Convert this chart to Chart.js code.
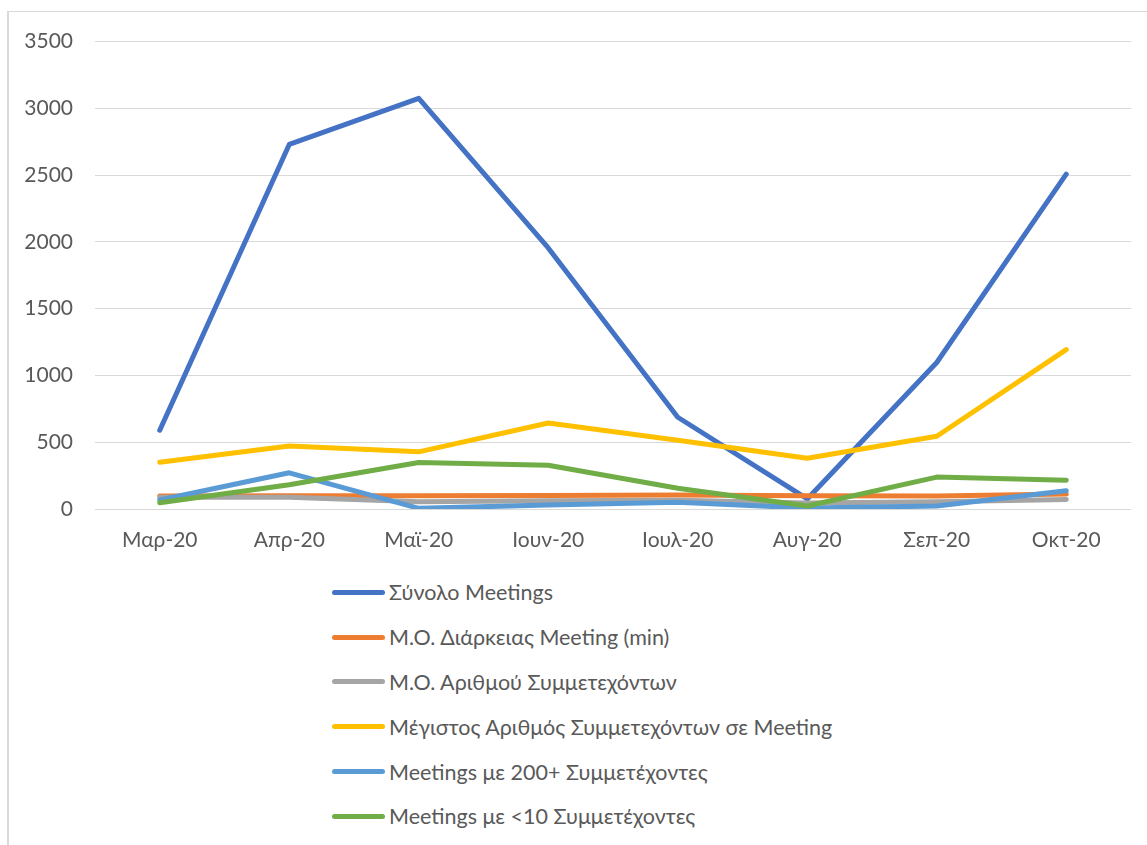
<!DOCTYPE html>
<html>
<head>
<meta charset="utf-8">
<script src="https://cdn.jsdelivr.net/npm/chart.js@4"></script>
<style>
  html, body { margin: 0; padding: 0; background: #fff; }
  #frame {
    position: absolute; left: 7px; top: 11px; width: 1140px; height: 834px;
    border-top: 1px solid #d9d9d9; border-left: 2px solid #d9d9d9;
  }
  #wrap { position: absolute; left: 0; top: -5px; width: 1138px; height: 552px; }
  #legend { position: absolute; left: 323px; top: 558px; font-family: Lato, "Open Sans", sans-serif; font-size: 21.5px; color: #595959; }
  .item { height: 44.8px; display: flex; align-items: center; }
  .swatch { width: 53px; height: 5px; border-radius: 3px; margin-right: 4px; }
</style>
</head>
<body>
<div id="frame">
  <div id="wrap"><canvas id="myChart"></canvas></div>
  <div id="legend"></div>
</div>
<script>
// Μήνες
const months = ['Μαρ-20', 'Απρ-20', 'Μαϊ-20', 'Ιουν-20', 'Ιουλ-20', 'Αυγ-20', 'Σεπ-20', 'Οκτ-20'];

// Σειρές δεδομένων (εκτίμηση από την εικόνα)
const totalMeetings = [590, 2730, 3075, 1955, 687, 75, 1097, 2507];
const avgDuration = [97, 100, 100, 102, 105, 100, 97, 112];
const avgParticipants = [88, 88, 55, 62, 65, 45, 55, 72];
const maxParticipants = [350, 472, 428, 644, 515, 380, 545, 1194];
const meetings200 = [67, 271, 5, 30, 50, 7, 22, 137];
const meetingsUnder10 = [47, 182, 348, 328, 155, 22, 239, 216];

const yTicks = [0, 500, 1000, 1500, 2000, 2500, 3000, 3500];

const seriesNames = [
    'Σύνολο Meetings',
    'Μ.Ο. Διάρκειας Meeting (min)',
    'Μ.Ο. Αριθμού Συμμετεχόντων',
    'Μέγιστος Αριθμός Συμμετεχόντων σε Meeting',
    'Meetings με 200+ Συμμετέχοντες',
    'Meetings με <10 Συμμετέχοντες'
];
const seriesData = [totalMeetings, avgDuration, avgParticipants, maxParticipants, meetings200, meetingsUnder10];
const seriesColors = ['#4472C4', '#ED7D31', '#A5A5A5', '#FFC000', '#5B9BD5', '#70AD47'];

const fontFamily = 'Lato, "Open Sans", sans-serif';
const textColor = '#595959';

const datasets = seriesNames.map((name, i) => ({
    label: name,
    data: seriesData[i],
    borderColor: seriesColors[i],
    backgroundColor: seriesColors[i],
    borderWidth: 5,
    borderCapStyle: 'round',
    borderJoinStyle: 'round',
    pointRadius: 0,
    tension: 0,
    fill: false,
    order: seriesNames.length - 1 - i // η τελευταία σειρά σχεδιάζεται από πάνω
}));

const ctx = document.getElementById('myChart').getContext('2d');
const myChart = new Chart(ctx, {
    type: 'line',
    data: { labels: months, datasets: datasets },
    options: {
        responsive: true,
        maintainAspectRatio: false,
        animation: false,
        layout: { padding: { top: 23, right: 16, left: 0, bottom: 0 } },
        scales: {
            y: {
                min: 0,
                max: 3500,
                afterBuildTicks: scale => { scale.ticks = yTicks.map(v => ({ value: v })); },
                afterFit: scale => { scale.width = 86; },
                border: { display: false },
                grid: { color: '#d9d9d9', lineWidth: 1, drawTicks: false },
                ticks: {
                    color: textColor, padding: 22, font: { family: fontFamily, size: 21 },
                    callback: v => String(v)
                }
            },
            x: {
                offset: true,
                afterFit: scale => { scale.height = 50; },
                border: { display: false },
                grid: { display: false, drawTicks: false, offset: true },
                ticks: { color: textColor, padding: 19, maxRotation: 0, font: { family: fontFamily, size: 21 } }
            }
        },
        plugins: {
            legend: { display: false },
            tooltip: { enabled: false }
        }
    }
});

// Υπόμνημα σε στήλη κάτω από το γράφημα
const legendBox = document.getElementById('legend');
seriesNames.forEach((name, i) => {
    const row = document.createElement('div');
    row.className = 'item';
    const sw = document.createElement('span');
    sw.className = 'swatch';
    sw.style.background = seriesColors[i];
    const txt = document.createElement('span');
    txt.textContent = name;
    row.appendChild(sw);
    row.appendChild(txt);
    legendBox.appendChild(row);
});
</script>
</body>
</html>
